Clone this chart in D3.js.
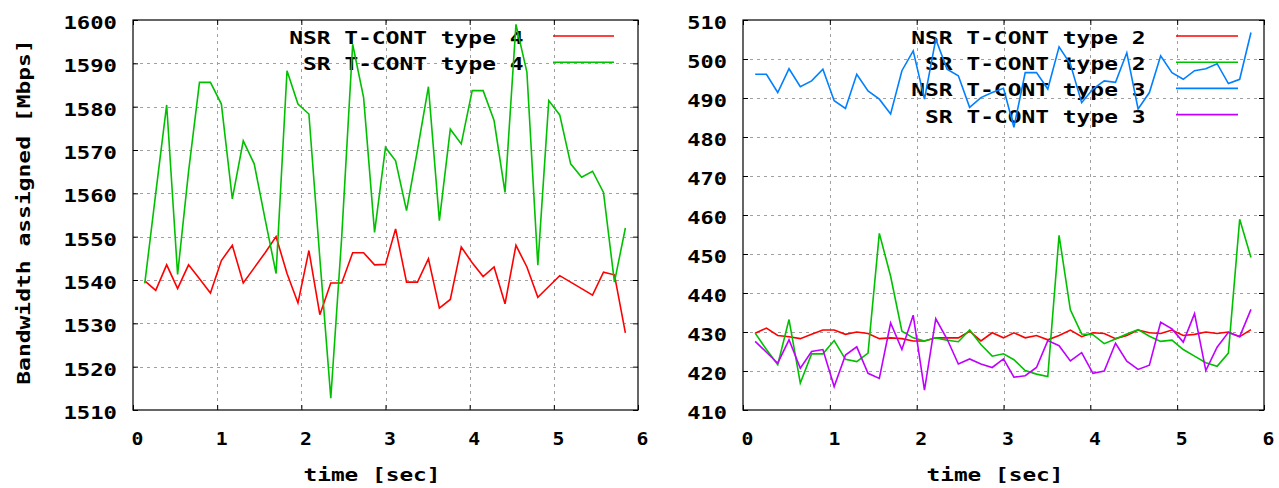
<!DOCTYPE html>
<html><head><meta charset="utf-8">
<script src="https://cdn.jsdelivr.net/npm/d3@7"></script>
<style>
body{margin:0;background:#fff;}
svg{display:block;}
text{font-family:"DejaVu Sans Mono","Liberation Mono",monospace;font-weight:bold;font-size:17px;fill:#000;}
</style></head><body>
<svg id="chart" width="1279" height="488"></svg>
<script>
// ---- data ----
const times = [0.14,0.27,0.40,0.53,0.66,0.79,0.92,1.05,1.18,1.31,1.44,1.57,1.70,1.83,1.96,2.09,2.22,2.35,2.48,2.61,2.74,2.87,3.00,3.12,3.25,3.38,3.51,3.64,3.77,3.90,4.03,4.16,4.29,4.42,4.55,4.68,4.81,4.94,5.07,5.20,5.33,5.46,5.59,5.72,5.85];

const nsrType4 = [1539.8,1537.6,1543.5,1538,1543.5,1540.3,1537,1544.5,1548,1539.3,1542.8,1546.3,1550,1541.5,1534.7,1546.8,1532,1539.3,1539.3,1546.3,1546.3,1543.5,1543.6,1551.8,1539.5,1539.5,1544.9,1533.5,1535.5,1547.6,1544,1540.8,1543,1534.5,1548,1543,1536,1538.5,1541,1539.5,1538,1536.5,1541.8,1541.2,1527.8];
const srType4 = [1539.2,1560,1580.4,1541.3,1565,1585.6,1585.6,1580.6,1558.7,1572.1,1566.8,1554,1541.5,1588.3,1580.6,1578.3,1545,1512.7,1550,1594.4,1582.1,1551,1570.6,1567.5,1556,1570,1584.6,1553.7,1574.8,1571.4,1583.7,1583.7,1576.8,1560.2,1599,1588,1543.4,1581.4,1578.1,1566.8,1563.7,1565.1,1560.2,1539.5,1552];

const nsrType2 = [429.7,431,429.1,428.8,428.3,429.4,430.5,430.5,429.4,430,429.6,428.3,428.5,428.3,427.7,427.7,428.5,428.5,428.5,430.2,427.7,429.8,428.5,429.8,428.5,429.1,428,429.1,430.5,428.8,429.8,429.6,428.3,429.1,430.5,429.8,429.6,430.5,429.1,429.4,430,429.6,430,428.8,430.6];
const srType2 = [429.7,425.5,421.6,433.2,416.9,424.4,424.4,427.8,423,422.4,424.6,455.3,444.3,430.2,428.5,427.7,428.5,427.9,427.5,430.5,426.8,423.8,424.4,422.9,420.1,419.2,418.6,454.8,435.7,429.5,429.3,427,428.2,429.5,430.6,428.9,427.6,427.9,425.5,423.8,422.1,421.2,424.6,458.9,449.1];
const nsrType3 = [496.1,496.1,491.4,497.5,492.9,494.4,497.4,489.3,487.3,496.1,491.8,489.7,485.9,497,502.1,489.7,505.1,497.4,495.7,487.6,490.1,491.4,492.5,482.5,496.5,496.5,492.3,503.1,498.7,488.8,492.3,494.4,494,501.6,487.2,491.4,500.8,496.5,494.8,497,497.5,498.8,493.7,494.8,506.8];
const srType3 = [427.6,424.8,422,428,420.7,425,425.5,416,424.1,426.2,419.4,418.1,432.3,425.5,434.3,415.1,433.4,428.2,421.8,423.1,421.8,420.9,423.1,418.4,418.8,420.9,427.8,426.5,422.6,424.7,419.4,420,427.1,422.5,420.4,421.5,432.5,430.8,427.4,434.7,420.1,426.1,429.9,428.8,435.8];

const xTicks = [0,1,2,3,4,5,6];
const yTicksLeft = [1510,1520,1530,1540,1550,1560,1570,1580,1590,1600];
const yTicksRight = [410,420,430,440,450,460,470,480,490,500,510];

const leftSeries = [
  {name:"NSR T-CONT type 4", values:nsrType4, color:"#ff0000"},
  {name:"SR T-CONT type 4", values:srType4, color:"#00c000"}
];
const rightSeries = [
  {name:"NSR T-CONT type 2", values:nsrType2, color:"#ff0000"},
  {name:"SR T-CONT type 2", values:srType2, color:"#00c000"},
  {name:"NSR T-CONT type 3", values:nsrType3, color:"#0080ff"},
  {name:"SR T-CONT type 3", values:srType3, color:"#c000ff"}
];

// ---- drawing ----
const svg = d3.select("#chart");
const PITCH = 13.9;
function fitText(sel){ sel.each(function(){ const t=d3.select(this).text(); if(t.length) d3.select(this).attr("textLength", t.length*PITCH-2).attr("lengthAdjust","spacingAndGlyphs"); }); }

function panel(cfg){
  const x = d3.scaleLinear().domain([0,6]).range([cfg.x0,cfg.x1]);
  const y = d3.scaleLinear().domain(cfg.yDomain).range([410,20]);
  const g = svg.append("g");

  // grid
  const grid = g.append("g").attr("stroke","#a0a0a0").attr("stroke-width",1).attr("stroke-dasharray","3,4");
  grid.selectAll("line.v").data(xTicks.slice(1,-1)).join("line")
    .attr("x1",d=>Math.round(x(d))+0.5).attr("x2",d=>Math.round(x(d))+0.5).attr("y1",y.range()[1]).attr("y2",y.range()[0]);
  grid.selectAll("line.h").data(cfg.yTicks.slice(1,-1)).join("line")
    .attr("y1",d=>Math.round(y(d))+0.5).attr("y2",d=>Math.round(y(d))+0.5).attr("x1",cfg.x0).attr("x2",cfg.x1);

  // axes (inward ticks, mirrored)
  const ax = [
    [d3.axisBottom(x).tickValues(xTicks).tickFormat(d3.format("d")), `translate(0,410)`, true],
    [d3.axisTop(x).tickValues(xTicks).tickFormat(""), `translate(0,20)`, false],
    [d3.axisLeft(y).tickValues(cfg.yTicks).tickFormat(d3.format("d")), `translate(${cfg.x0},0)`, true],
    [d3.axisRight(y).tickValues(cfg.yTicks).tickFormat(""), `translate(${cfg.x1},0)`, false]
  ];
  ax.forEach(([a,tr,lab],i)=>{
    const ag = g.append("g").attr("transform",tr).call(a.tickSizeInner(-5).tickSizeOuter(0).tickPadding(0));
    ag.select(".domain").remove();
    ag.selectAll("line").attr("stroke","#000");
    ag.attr("font-family",null).attr("font-size",null);
    const t = ag.selectAll("text");
    if(i===0){ t.attr("y",35).attr("dy",null).attr("dx",4); }
    if(i===2){ t.attr("x",-16).attr("dy",null).attr("y",8.5); }
    t.attr("fill","#000"); fitText(t);
  });

  // frame
  g.append("rect").attr("x",cfg.x0).attr("y",20).attr("width",cfg.x1-cfg.x0).attr("height",390)
    .attr("fill","none").attr("stroke","#000").attr("stroke-width",1.2);

  // axis title
  g.append("text").attr("x",cfg.titleX).attr("y",481).attr("text-anchor","middle").text("time [sec]").call(fitText);

  // legend (drawn under data, as in gnuplot)
  const lg = g.append("g");
  cfg.series.forEach((s,i)=>{
    const ly = 36 + i*26.2;
    lg.append("text").attr("x",cfg.legTextX).attr("y",ly+8).attr("text-anchor","end").text(s.name).call(fitText);
    lg.append("line").attr("x1",cfg.legLine[0]).attr("x2",cfg.legLine[1]).attr("y1",ly).attr("y2",ly)
      .attr("stroke",s.color).attr("stroke-width",1.6);
  });

  // lines
  const line = d3.line().x((d,i)=>x(times[i])).y(d=>y(d));
  g.append("g").selectAll("path").data(cfg.series).join("path")
    .attr("d",d=>line(d.values)).attr("fill","none").attr("stroke",d=>d.color)
    .attr("stroke-width",1.6).attr("stroke-linejoin","miter");
}

panel({x0:133,x1:638,yDomain:[1510,1600],yTicks:yTicksLeft,series:leftSeries,titleX:372,legTextX:523.5,legLine:[553,614]});
panel({x0:743,x1:1264,yDomain:[410,510],yTicks:yTicksRight,series:rightSeries,titleX:995,legTextX:1145.5,legLine:[1176,1238]});

// y axis title
svg.append("text").attr("transform","translate(30,212) rotate(-90)").attr("text-anchor","middle")
  .text("Bandwidth assigned [Mbps]").call(fitText);
</script>
</body></html>
